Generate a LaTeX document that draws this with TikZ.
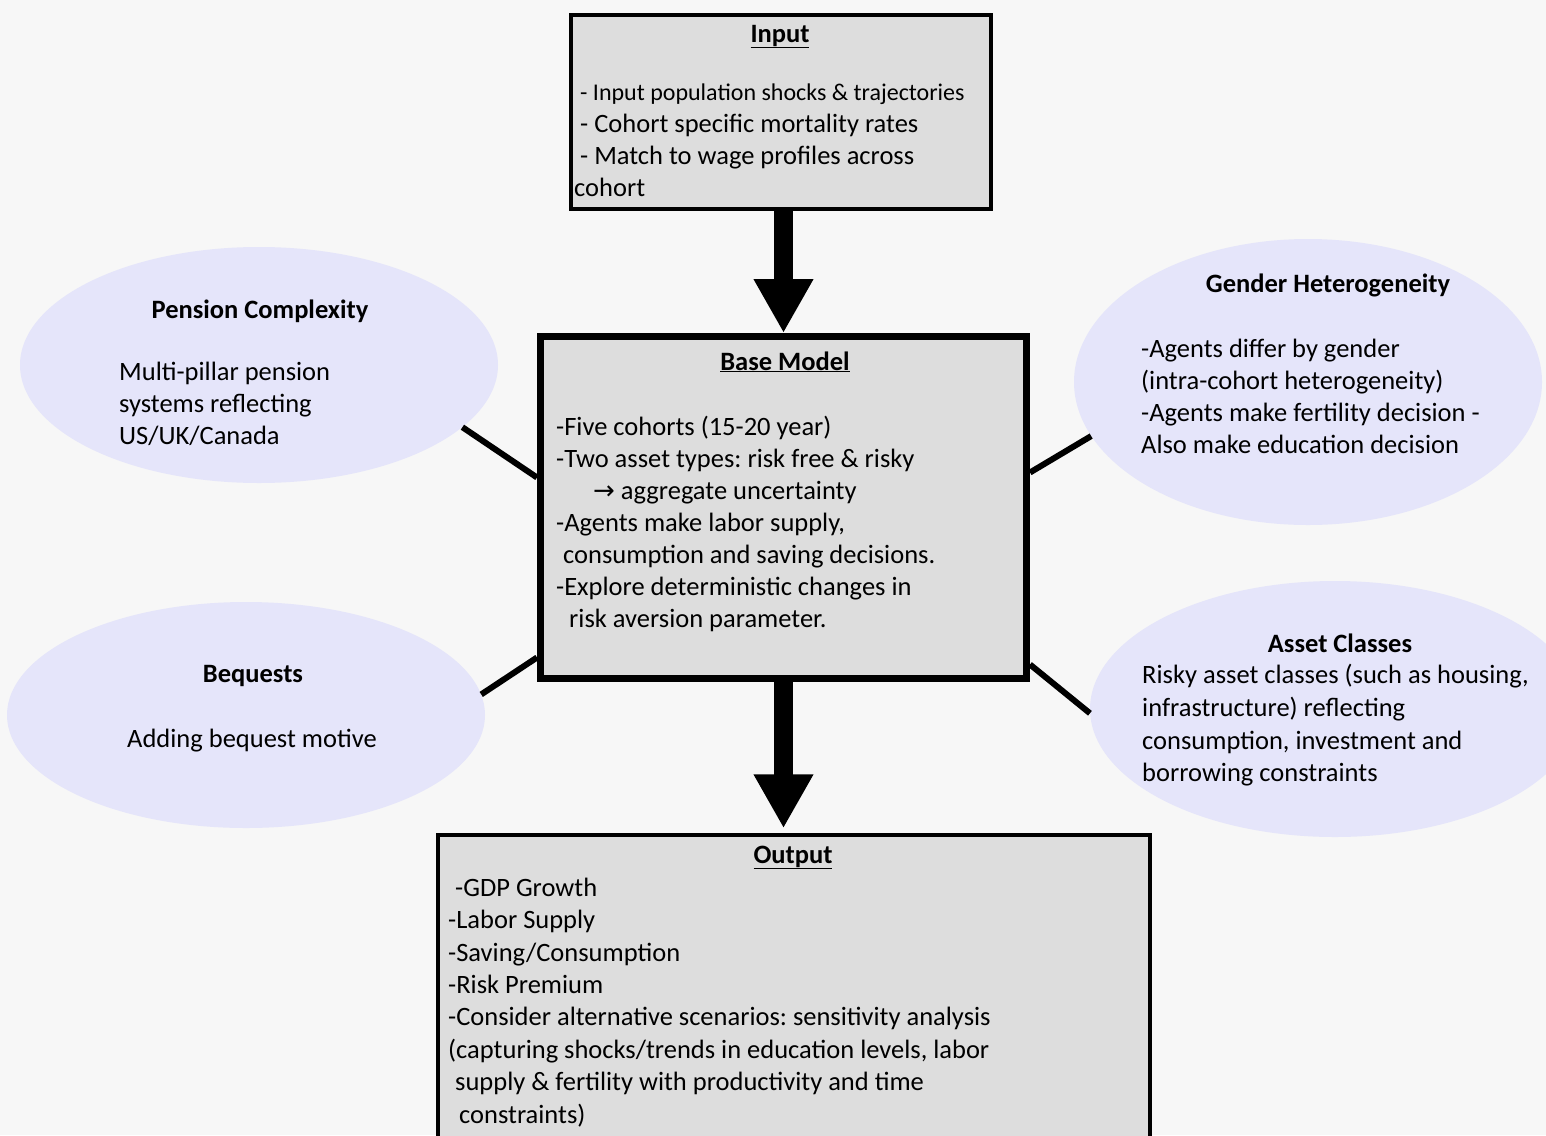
\documentclass[tikz,border=0pt]{standalone}
\usepackage{fontspec}
\setmainfont{Carlito}
\newfontfamily\symfont{DejaVu Sans}
\frenchspacing
\usetikzlibrary{shapes.geometric,arrows.meta,calc}
\definecolor{bgc}{RGB}{247,247,247}
\definecolor{boxc}{RGB}{221,221,221}
\definecolor{ellc}{RGB}{229,229,250}
\tikzset{
  box/.style={draw=black, fill=boxc, rectangle, inner sep=0pt},
  bubble/.style={ellipse, fill=ellc, draw=none, inner sep=0pt},
  txt/.style={inner sep=0pt, align=left, anchor=north west, font=\fontsize{26.5}{32}\selectfont\frenchspacing},
  head/.style={inner sep=0pt, anchor=base, font=\fontsize{26.5}{32}\selectfont\bfseries},
  bigarrow/.style={line width=19pt, -{Triangle[width=56pt,length=54pt]}},
  link/.style={line width=6pt}
}
\begin{document}
\begin{tikzpicture}[x=1pt,y=-1pt]
\useasboundingbox (0,0) rectangle (1546,1135);
\fill[bgc] (0,0) rectangle (1546,1135);
% bubbles
\node[bubble, minimum width=478pt, minimum height=236pt] (pc) at (259,365) {};
\node[bubble, minimum width=478pt, minimum height=226pt] (bq) at (246,715) {};
\node[bubble, minimum width=468pt, minimum height=286pt] (gh) at (1308,382) {};
\node[bubble, minimum width=490pt, minimum height=256pt] (ac) at (1335,709) {};
% boxes
\node[box, line width=3.5pt, minimum width=420pt, minimum height=194pt] (input) at (781,112) {};
\node[box, line width=7pt, minimum width=486pt, minimum height=342pt] (base) at (783.5,507.5) {};
\node[box, line width=3.5pt, minimum width=712pt, minimum height=330pt] (output) at (794,1000) {};
% arrows
\draw[bigarrow] (base.north |- input.south) -- (base.north);
\draw[bigarrow, shorten >=5pt] (base.south) -- (base.south |- output.north);
% links
\draw[link] (pc.-17) -- ($(base.west)+(0,-30)$);
\draw[link] (bq.5) -- ($(base.west)+(0,150)$);
\draw[link] (gh.194) -- ($(base.east)+(0,-35)$);
\draw[link] (ac.181) -- ($(base.east)+(0,157)$);
% input text
\node[head] (inh) at (780,42) {\underline{Input}};
\node[txt] (intx) at (574,77.6) {\strut\hspace*{6pt}{\fontsize{24}{32}\selectfont - Input population shocks \& trajectories}\\
\strut\hspace*{6pt}- Cohort specific mortality rates\\
\strut\hspace*{6pt}- Match to wage profiles across\\
\strut cohort};
% base text
\node[head] (bmh) at (785,370) {\underline{Base Model}};
\node[txt] (bmtx) at (556,412.6) {\strut -Five cohorts (15-20 year)\\
\strut -Two asset types: risk free \& risky\\
\strut\hspace*{37pt}{\symfont\fontsize{26}{32}\selectfont →} aggregate uncertainty\\
\strut -Agents make labor supply,\\
\strut\hspace*{7pt}consumption and saving decisions.\\
\strut -Explore deterministic changes in\\
\strut\hspace*{13pt}risk aversion parameter.};
% output text
\node[head] (oph) at (793,863) {\underline{Output}};
\node[txt, font=\fontsize{26.5}{32.4}\selectfont\frenchspacing] (optx) at (448,873.4) {\strut\hspace*{7pt}-GDP Growth\\
\strut -Labor Supply\\
\strut -Saving/Consumption\\
\strut -Risk Premium\\
\strut -Consider alternative scenarios: sensitivity analysis\\
\strut (capturing shocks/trends in education levels, labor\\
\strut\hspace*{7pt}supply \& fertility with productivity and time\\
\strut\hspace*{11pt}constraints)};
% pension
\node[head] (pch) at (260,318) {Pension Complexity};
\node[txt] (pctx) at (119,357.6) {\strut Multi-pillar pension\\
\strut systems reflecting\\
\strut US/UK/Canada};
% bequests
\node[head] (bqh) at (253,682) {Bequests};
\node[head, font=\fontsize{26.5}{32}\selectfont] (bqtx) at (252,747) {Adding bequest motive};
% gender
\node[head] (ghh) at (1328,292) {Gender Heterogeneity};
\node[txt] (ghtx) at (1141,334.6) {\strut -Agents differ by gender\\
\strut (intra-cohort heterogeneity)\\
\strut -Agents make fertility decision -\\
\strut Also make education decision};
% asset
\node[head] (ach) at (1340,652) {Asset Classes};
\node[txt, font=\fontsize{26.5}{32.7}\selectfont\frenchspacing] (actx) at (1142,660.6) {\strut Risky asset classes (such as housing,\\
\strut infrastructure) reflecting\\
\strut consumption, investment and\\
\strut borrowing constraints};
\end{tikzpicture}
\end{document}
